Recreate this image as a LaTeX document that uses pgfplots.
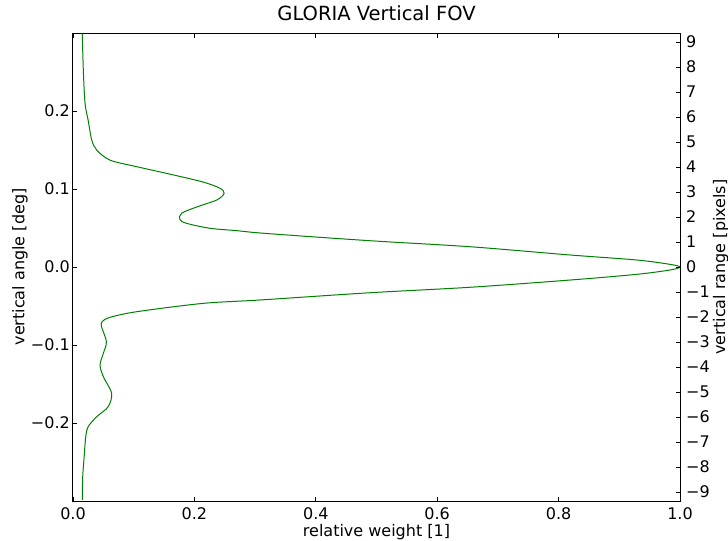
\documentclass[border=0pt]{standalone}
\usepackage{fontspec}
\setmainfont{DejaVu Sans}
\usepackage{pgfplots}
\pgfplotsset{compat=1.18}
\definecolor{mplgreen}{rgb}{0,0.5,0}
\begin{document}
\fontsize{16bp}{19bp}\selectfont
\begin{tikzpicture}
\begin{axis}[
  name=main,
  at={(0,0)}, anchor=south west,
  scale only axis, width=607bp, height=468bp,
  xmin=0, xmax=1, ymin=-0.3, ymax=0.3,
  xtick={0,0.2,0.4,0.6,0.8,1.0},
  xticklabels={0.0,0.2,0.4,0.6,0.8,1.0},
  ytick={-0.2,-0.1,0,0.1,0.2},
  yticklabels={−0.2,−0.1,0.0,0.1,0.2},
  xtick pos=both, ytick pos=left,
  tick align=inside, major tick length=4.5bp,
  tick style={black, line width=0.7bp},
  axis line style={black, line width=1bp},
  xticklabel style={anchor=base, inner sep=0pt, yshift=-18.5bp},
  yticklabel style={anchor=east, inner sep=0pt, xshift=-3bp},
  /pgf/number format/assume math mode=true,
  title={GLORIA Vertical FOV},
  title style={at={(axis description cs:0.5,1)}, anchor=base, inner sep=0pt, yshift=6.3bp, font=\fontsize{19.5bp}{22bp}\selectfont},
  xlabel={relative weight [1]},
  xlabel style={at={(axis description cs:0.5,0)}, anchor=base, inner sep=0pt, yshift=-35bp},
  ylabel={vertical angle [deg]},
  ylabel style={at={([xshift=-48.5bp]axis description cs:0,0.5)}, anchor=base, inner sep=0pt, rotate=0},
]
\addplot[mplgreen, line width=1bp, smooth, tension=0.5] coordinates {
(0.0153, 0.2996)
(0.0170, 0.2526)
(0.0198, 0.2100)
(0.0250, 0.1880)
(0.0308, 0.1630)
(0.0390, 0.1500)
(0.0610, 0.1370)
(0.1050, 0.1286)
(0.1600, 0.1190)
(0.2140, 0.1090)
(0.2420, 0.1010)
(0.2490, 0.0945)
(0.2370, 0.0860)
(0.2040, 0.0770)
(0.1790, 0.0690)
(0.1760, 0.0610)
(0.1870, 0.0560)
(0.2260, 0.0496)
(0.2700, 0.0466)
(0.3150, 0.0432)
(0.4890, 0.0337)
(0.6540, 0.0260)
(0.8190, 0.0154)
(0.9286, 0.0090)
(0.9835, 0.0034)
(1.0000, 0.0000)
(0.9835, -0.0038)
(0.9286, -0.0094)
(0.8190, -0.0167)
(0.6540, -0.0260)
(0.4890, -0.0330)
(0.3080, -0.0423)
(0.2147, -0.0466)
(0.1050, -0.0573)
(0.0610, -0.0645)
(0.0480, -0.0700)
(0.0470, -0.0765)
(0.0550, -0.0957)
(0.0500, -0.1107)
(0.0445, -0.1256)
(0.0500, -0.1406)
(0.0637, -0.1620)
(0.0580, -0.1790)
(0.0390, -0.1920)
(0.0250, -0.2047)
(0.0210, -0.2175)
(0.0180, -0.2474)
(0.0160, -0.2690)
(0.0153, -0.2987)
};
\end{axis}
\begin{axis}[
  at={(0,0)}, anchor=south west,
  scale only axis, width=607bp, height=468bp,
  xmin=0, xmax=1, ymin=-9.36, ymax=9.36,
  axis x line=none,
  axis y line*=right,
  ytick={-9,-8,...,9},
  yticklabels={−9,−8,−7,−6,−5,−4,−3,−2,−1,0,1,2,3,4,5,6,7,8,9},
  tick align=inside, major tick length=4.5bp,
  tick style={black, line width=0.7bp},
  axis line style={black, line width=1bp},
  yticklabel style={anchor=west, inner sep=0pt, xshift=6bp},
  ylabel={vertical range [pixels]},
  ylabel style={at={([xshift=45bp]axis description cs:1,0.5)}, anchor=base, inner sep=0pt, rotate=0},
]
\end{axis}
\pgfresetboundingbox
\path[use as bounding box] (-73bp,-40bp) rectangle (655bp,501bp);
\end{tikzpicture}
\end{document}
